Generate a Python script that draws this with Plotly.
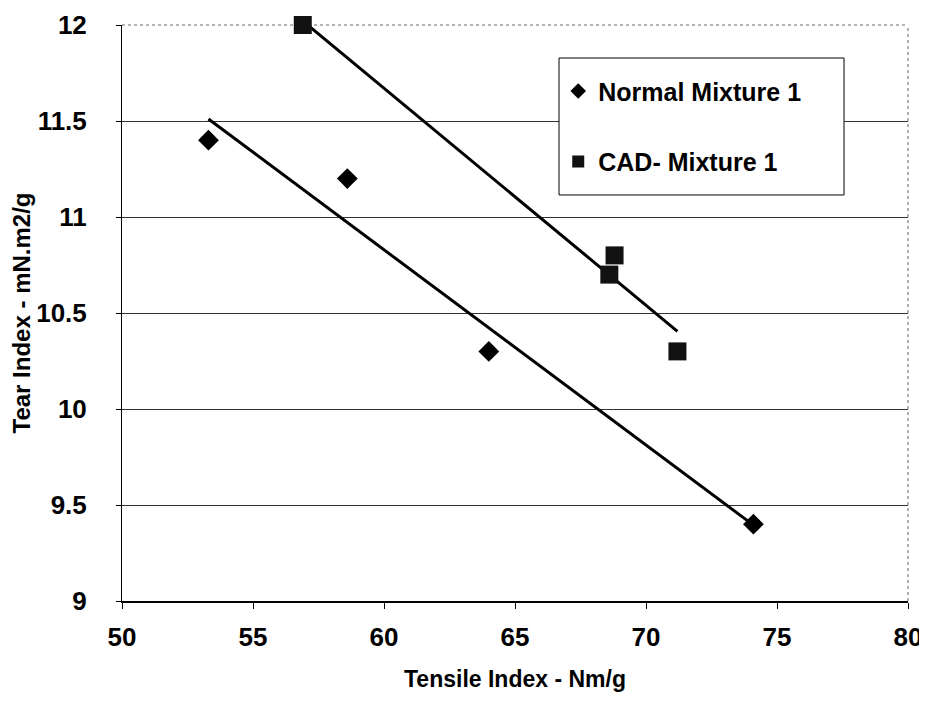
import numpy as np
import plotly.graph_objects as go

# Data
normal_x = [53.3, 58.6, 64.0, 74.1]
normal_y = [11.4, 11.2, 10.3, 9.4]
cad_x = [56.9, 68.8, 68.6, 71.2]
cad_y = [12.0, 10.8, 10.7, 10.3]

x_ticks = [50, 55, 60, 65, 70, 75, 80]
y_ticks = [9, 9.5, 10, 10.5, 11, 11.5, 12]

def trend(xs, ys):
    k, b = np.polyfit(xs, ys, 1)
    xr = np.array([min(xs), max(xs)])
    return xr, k * xr + b

fig = go.Figure()

nx, ny = trend(normal_x, normal_y)
cx, cy = trend(cad_x, cad_y)
fig.add_trace(go.Scatter(x=nx, y=ny, mode="lines", line=dict(color="black", width=3),
                         showlegend=False, hoverinfo="skip"))
fig.add_trace(go.Scatter(x=cx, y=cy, mode="lines", line=dict(color="black", width=3),
                         showlegend=False, hoverinfo="skip"))

fig.add_trace(go.Scatter(x=normal_x, y=normal_y, mode="markers", name="Normal Mixture 1",
                         legendgroup="a", cliponaxis=False,
                         marker=dict(symbol="diamond", size=16, color="black")))
fig.add_trace(go.Scatter(x=cad_x, y=cad_y, mode="markers", name="CAD- Mixture 1",
                         legendgroup="b", cliponaxis=False,
                         marker=dict(symbol="square", size=18, color="#111")))

font_main = "Liberation Sans, Arial, sans-serif"
font_narrow = "Liberation Sans Narrow, Arial Narrow, Liberation Sans, Arial, sans-serif"

# The page body has an 8px margin, so the figure is sized to fit the 927x719 window.
fig.update_layout(
    width=915, height=703,
    margin=dict(l=114, r=15, t=17, b=110),
    paper_bgcolor="white", plot_bgcolor="white",
    showlegend=True,
    legend=dict(
        x=0.555, y=0.925, xanchor="left", yanchor="top",
        borderwidth=0, bgcolor="rgba(0,0,0,0)",
        font=dict(family=font_narrow, size=25, color="black", weight="bold"),
        tracegroupgap=35, itemwidth=30, itemsizing="constant",
    ),
    xaxis=dict(
        range=[50, 80], tickvals=x_ticks, showgrid=False, zeroline=False,
        showline=True, linecolor="black", linewidth=2, automargin=False,
        ticks="outside", ticklen=6, tickcolor="black",
        ticklabeloverflow="allow",
        tickfont=dict(family=font_narrow, size=26, color="black", weight="bold"),
        ticklabelstandoff=6,
        title=dict(text="Tensile Index - Nm/g", standoff=20,
                   font=dict(family=font_narrow, size=23, color="black", weight="bold")),
    ),
    yaxis=dict(
        range=[9, 12], tickvals=y_ticks, ticktext=[str(v) for v in y_ticks],
        showgrid=True, gridcolor="#333", gridwidth=1, zeroline=False,
        showline=True, linecolor="black", linewidth=1, automargin=False,
        ticks="outside", ticklen=5, tickcolor="black",
        tickfont=dict(family=font_main, size=26, color="black", weight="bold"),
        ticklabelstandoff=24,
        title=dict(text="Tear Index - mN.m2/g", standoff=0,
                   font=dict(family=font_main, size=24, color="black", weight="bold")),
    ),
    shapes=[
        dict(type="line", xref="x domain", yref="y domain", x0=0, x1=1, y0=1, y1=1,
             line=dict(color="#666", width=1, dash="dot"), layer="below"),
        dict(type="line", xref="x domain", yref="y domain", x0=1, x1=1, y0=0, y1=1,
             line=dict(color="#666", width=1, dash="dot"), layer="above"),
        dict(type="rect", xref="x domain", yref="y domain",
             x0=0.556, x1=0.9186, y0=0.7049, y1=0.9427,
             line=dict(color="black", width=1), fillcolor="white", layer="above"),
    ],
)

fig.write_html("out.html")
